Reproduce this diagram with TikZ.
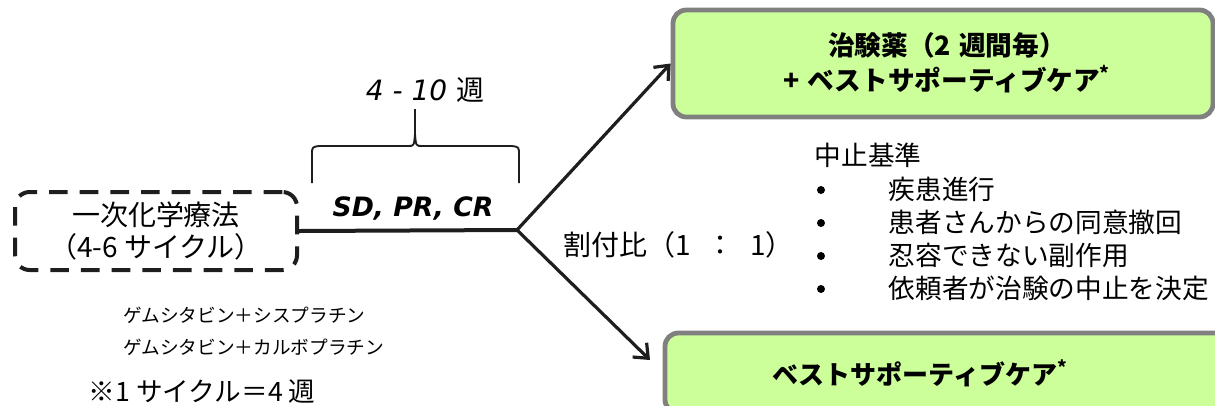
\documentclass[tikz,border=0pt]{standalone}
\usepackage{fontspec}
\setmainfont{Noto Sans CJK JP}
\newfontfamily\lat{DejaVu Sans}
\usetikzlibrary{arrows.meta}
\definecolor{boxgreen}{HTML}{CCFF99}
\definecolor{boxgray}{HTML}{808080}
\definecolor{ink}{HTML}{1E1E1E}
\tikzset{
  chemobox/.style={draw=ink, line width=3pt, dash pattern=on 14pt off 9pt, rounded corners=11pt,
    minimum width=211.5pt, minimum height=58.5pt, align=center, font=\fontsize{21}{24}\selectfont, inner sep=0pt},
  armbox/.style={draw=boxgray, fill=boxgreen, line width=3.6pt, rounded corners=10pt, inner sep=0pt},
  armtext/.style={font=\bfseries\fontsize{20}{26}\selectfont, align=center},
  flow/.style={draw=ink, line width=2.4pt},
  arrowflow/.style={flow, -{Straight Barb[length=9pt, width=15pt, line width=2.4pt]}},
  plain/.style={font=\fontsize{20}{24}\selectfont},
  small/.style={font=\fontsize{14}{18}\selectfont},
  bulletdot/.style={circle, fill=black, inner sep=0pt, minimum size=6pt},
}
\begin{document}
\begin{tikzpicture}[x=0.75pt, y=-0.75pt]
\path[use as bounding box, clip] (0,0) rectangle (1215,405);
% boxes
\node[armbox, minimum width=405pt, minimum height=80.25pt] (top) at (943,63.5) {};
\node[armtext] (toptext) at (947,63) {治験薬（2\hspace{0.3em}週間毎）\\+\hspace{0.3em}ベストサポーティブケア\textsuperscript{*}};
\node[armbox, minimum width=450pt, minimum height=60pt] (bottom) at (965,373) {};
\node[armtext, font=\bfseries\fontsize{19.5}{24}\selectfont] (bottomtext) at (920,373) {ベストサポーティブケア\textsuperscript{*}};
\node[chemobox] (chemo) at (156,231) {一次化学療法\\（4-6 サイクル）};
% connectors
\coordinate (split) at (517,230);
\coordinate (lowtip) at (650,360);
\draw[flow, line width=3pt] (chemo.east) -- (split);
\draw[arrowflow] (split) -- (top.west);
\draw[arrowflow] (split) -- (lowtip);
% brace
\draw[ink, line width=1.4pt, line join=round] (312,183) -- (312,155) .. controls (312,147) .. (319,146) -- (408,146) .. controls (414,146) .. (415,134) -- (415,109);
\draw[ink, line width=1.4pt, line join=round] (415,134) .. controls (416,146) .. (422,146) -- (512,146) .. controls (519,147) .. (519,155) -- (519,183);
% labels
\node[font=\lat\itshape\fontsize{21}{24}\selectfont] (weeks) at (425,90) {4 - 10 {\rmfamily 週}};
\node[font=\lat\bfseries\itshape\fontsize{20}{24}\selectfont] (resp) at (413,208) {SD, PR, CR};
\node[font=\fontsize{21}{24}\selectfont, anchor=west] (ratio) at (559,245) {割付比（1\hspace{0.55em}：\hspace{0.55em}1）};
% stopping criteria
\node[plain, anchor=west] (crit) at (810,155) {中止基準};
\node[bulletdot] (b1) at (821,190) {};
\node[bulletdot] (b2) at (821,223) {};
\node[bulletdot] (b3) at (821,256) {};
\node[bulletdot] (b4) at (821,289) {};
\node[plain, anchor=west] (c1) at (884,189) {疾患進行};
\node[plain, anchor=west] (c2) at (884,222) {患者さんからの同意撤回};
\node[plain, anchor=west] (c3) at (884,255) {忍容できない副作用};
\node[plain, anchor=west] (c4) at (884,288) {依頼者が治験の中止を決定};
% regimens
\node[small, anchor=west] (r1) at (119,315) {ゲムシタビン＋シスプラチン};
\node[small, anchor=west] (r2) at (119,347) {ゲムシタビン＋カルボプラチン};
\node[font=\fontsize{20}{24}\selectfont, anchor=west] (cycle) at (84,392) {※1 サイクル＝4 週};
\end{tikzpicture}
\end{document}
